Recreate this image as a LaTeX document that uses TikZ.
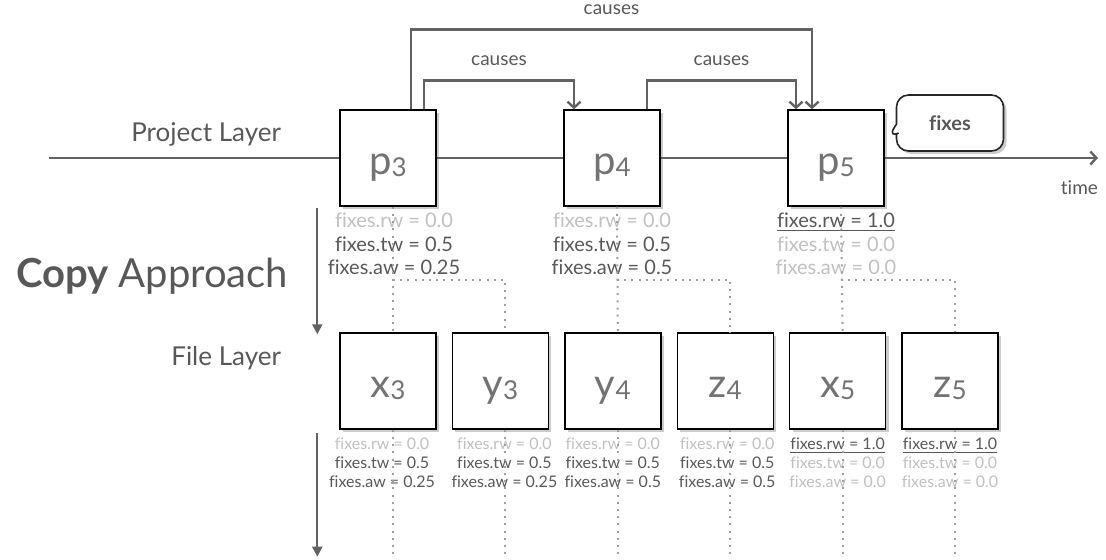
\documentclass[tikz,border=0pt]{standalone}
\usepackage{fontspec}
\setmainfont{Lato}[Ligatures=NoCommon]
\usetikzlibrary{arrows.meta,calc,positioning,shadows,shapes.callouts}
\definecolor{lngray}{RGB}{98,98,98}
\definecolor{txgray}{RGB}{88,88,88}
\definecolor{fdgray}{RGB}{192,192,192}
\newcommand{\fdval}[1]{\textcolor{fdgray}{#1}}
\newcommand{\dkval}[1]{\textcolor{txgray}{#1}}
\newcommand{\hitval}[1]{\textcolor{txgray}{\underline{#1}}}
\newcommand{\evlbl}[2]{\raisebox{-8pt}[0pt][0pt]{#1{\fontsize{13}{13}\selectfont\raisebox{-1pt}{#2}}}}

\begin{document}
\begin{tikzpicture}[x=.5pt,y=-.5pt,>={Straight Barb[length=3pt,width=6.5pt]},
    evt/.style={draw=black,line width=.7pt,fill=white,minimum size=48pt,inner sep=0pt,
      text=black!55,font=\fontsize{20}{20}\selectfont,
      drop shadow={shadow xshift=1.5pt,shadow yshift=-1.5pt,opacity=.4}},
    axis/.style={lngray,line width=1.2pt},
    cause/.style={lngray,line width=1.2pt,->},
    causelbl/.style={above=3.5pt,text=txgray,font=\fontsize{9.5}{9.5}\selectfont},
    dots/.style={gray!75,line width=1pt,dash pattern=on 1pt off 2.6pt},
    vals/.style={align=center,inner sep=0pt,font=\fontsize{10}{11.75}\selectfont},
    fvals/.style={align=center,inner sep=0pt,font=\fontsize{8}{9.5}\selectfont},
    layer/.style={anchor=base east,text=txgray,font=\fontsize{13}{13}\selectfont},
    flow/.style={lngray,line width=1pt,-{Triangle[length=5pt,width=5pt]}}]
  \useasboundingbox (0,0) rectangle (1106,559);

  % project layer
  \node[evt] (p3) at (388,158) {\evlbl{p}{3}};
  \node[evt] (p4) at (612,158) {\evlbl{p}{4}};
  \node[evt] (p5) at (836,158) {\evlbl{p}{5}};
  \coordinate (t0) at (49,158);
  \coordinate (t1) at (1098,158);
  \draw[axis] (t0) -- (p3) -- (p4) -- (p5);
  \draw[axis,->] (p5) -- (t1);
  \node[layer] (plbl) at (288,141) {Project Layer};
  \node[anchor=base east,text=txgray,font=\fontsize{9.5}{9.5}\selectfont] (tlbl) at (1105,194) {time};

  % causes
  \draw[cause] ($(p3.north)+(23,0)$) -- ++(0,-80) -| node[pos=.25,causelbl]{causes} ($(p5.north)+(-24,0)$);
  \draw[cause] ($(p3.north)+(36,0)$) -- ++(0,-29) -| node[pos=.25,causelbl]{causes} ($(p4.north)+(-38,0)$);
  \draw[cause] ($(p4.north)+(35,0)$) -- ++(0,-29) -| node[pos=.25,causelbl]{causes} ($(p5.north)+(-40,0)$);

  \coordinate (fxtip) at ($(p5.east)+(3,-20)$);
  \node[rectangle callout,draw=black!85,line width=.8pt,fill=white,rounded corners=6pt,
    minimum width=53.5pt,minimum height=28pt,callout absolute pointer=(fxtip),
    callout pointer width=5pt,text=txgray,font=\bfseries\fontsize{10}{10}\selectfont,
    drop shadow={shadow xshift=1.5pt,shadow yshift=-1.5pt,opacity=.4}] (fx) at (950,123) {fixes};

  \node[vals,below=3pt of p3,xshift=3pt] (v3) {\fdval{fixes.rw = 0.0}\\\dkval{fixes.tw = 0.5}\\\dkval{fixes.aw = 0.25}};
  \node[vals,below=3pt of p4] (v4) {\fdval{fixes.rw = 0.0}\\\dkval{fixes.tw = 0.5}\\\dkval{fixes.aw = 0.5}};
  \node[vals,below=3pt of p5] (v5) {\hitval{fixes.rw = 1.0}\\\fdval{fixes.tw = 0.0}\\\fdval{fixes.aw = 0.0}};

  \node[anchor=base west,text=txgray,font=\fontsize{20}{20}\selectfont] (copy) at (9,287) {\textbf{Copy} Approach};

  % file layer
  \foreach \nm/\lt/\dg [count=\i from 0] in {x3/x/3,y3/y/3,y4/y/4,z4/z/4,x5/x/5,z5/z/5}
    \node[evt] (\nm) at (388+112.4*\i,381) {\evlbl{\lt}{\dg}};
  \node[layer] (flbl) at (288,365) {File Layer};

  \foreach \nm/\aw/\sh in {x3/0.25/-3,y3/0.25/2,y4/0.5/0,z4/0.5/1}
    \node[fvals,below=4pt of \nm,xshift=\sh pt] {\fdval{fixes.rw = 0.0}\\\dkval{fixes.tw = 0.5}\\\dkval{fixes.aw = \aw}};
  \foreach \nm in {x5,z5}
    \node[fvals,below=4pt of \nm] {\hitval{fixes.rw = 1.0}\\\fdval{fixes.tw = 0.0}\\\fdval{fixes.aw = 0.0}};

  % dotted links
  \foreach \a/\b/\c in {p3/x3/y3,p4/y4/z4,p5/x5/z5} {
    \draw[dots] ([xshift=2.5pt]\a.south) -- ([xshift=2.5pt]\b.north);
    \draw[dots] ($(\a.south)+(5,73)$) -| ([xshift=2.5pt]\c.north);
  }
  \foreach \nm in {x3,y3,y4,z4,x5,z5}
    \draw[dots] ([xshift=2.5pt]\nm.south) -- ++(0,124);

  \draw[flow] ($(p3.south west)+(-22,1)$) -- ($(x3.north west)+(-22,2)$);
  \draw[flow] ($(x3.south west)+(-22,3)$) -- ++(0,124);
\end{tikzpicture}
\end{document}
